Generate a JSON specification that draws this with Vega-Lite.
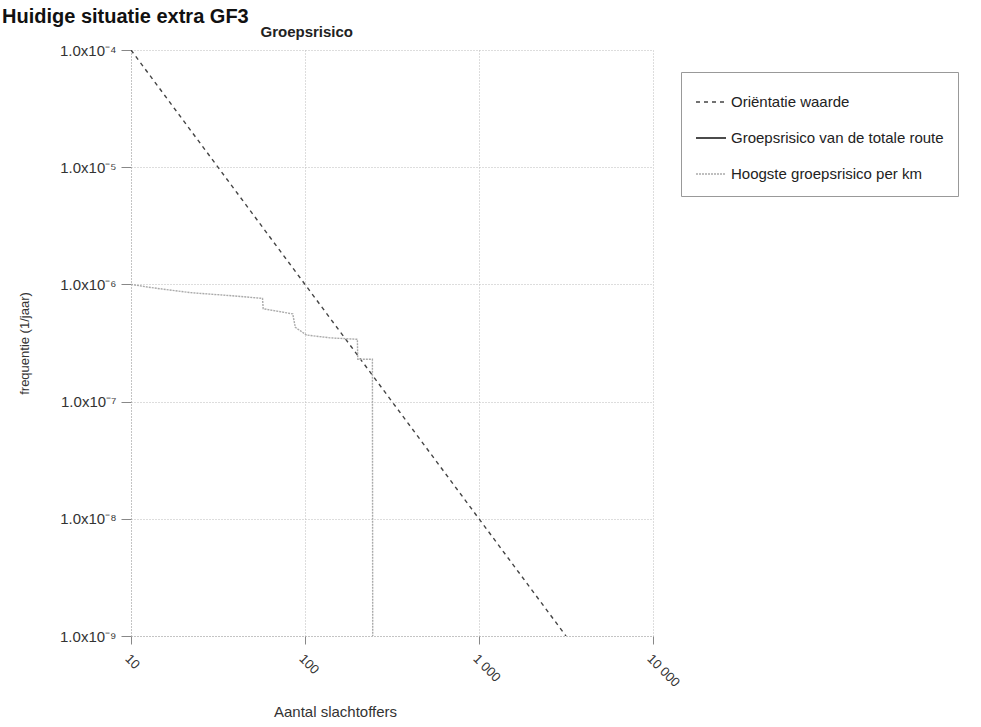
{
  "$schema": "https://vega.github.io/schema/vega-lite/v6.json",
  "width": 522,
  "height": 586,
  "autosize": "none",
  "padding": {"left": 131, "top": 50, "right": 328, "bottom": 91},
  "background": "white",
  "config": {"font": "Liberation Sans", "view": {"stroke": null}},
  "title": {"text": "Huidige situatie extra GF3", "anchor": "start", "frame": "group", "dx": -129, "dy": 27, "fontSize": 20, "fontWeight": "bold", "color": "#111", "offset": 4, "baseline": "bottom"},
  "data": {
    "values": [
      {"series": "Oriëntatie waarde", "N": 10, "f": 1e-4},
      {"series": "Oriëntatie waarde", "N": 3162, "f": 1e-9},
      {"series": "Hoogste groepsrisico per km", "N": 10, "f": 1.0e-6},
      {"series": "Hoogste groepsrisico per km", "N": 13, "f": 9.4e-7},
      {"series": "Hoogste groepsrisico per km", "N": 22, "f": 8.5e-7},
      {"series": "Hoogste groepsrisico per km", "N": 38, "f": 8.0e-7},
      {"series": "Hoogste groepsrisico per km", "N": 57, "f": 7.6e-7},
      {"series": "Hoogste groepsrisico per km", "N": 57.5, "f": 6.2e-7},
      {"series": "Hoogste groepsrisico per km", "N": 85, "f": 5.6e-7},
      {"series": "Hoogste groepsrisico per km", "N": 88, "f": 4.3e-7},
      {"series": "Hoogste groepsrisico per km", "N": 102, "f": 3.7e-7},
      {"series": "Hoogste groepsrisico per km", "N": 139, "f": 3.5e-7},
      {"series": "Hoogste groepsrisico per km", "N": 200, "f": 3.4e-7},
      {"series": "Hoogste groepsrisico per km", "N": 201, "f": 2.3e-7},
      {"series": "Hoogste groepsrisico per km", "N": 244, "f": 2.3e-7},
      {"series": "Hoogste groepsrisico per km", "N": 245, "f": 1e-9}
    ]
  },
  "resolve": {"axis": {"x": "independent"}},
  "layer": [
    {
      "mark": {"type": "line", "clip": true, "strokeWidth": 1.4},
      "encoding": {
        "x": {
          "field": "N", "type": "quantitative",
          "scale": {"type": "log", "domain": [10, 10000]},
          "axis": {
            "values": [10, 100, 1000, 10000],
            "labelExpr": "datum.value == 1000 ? '1 000' : datum.value == 10000 ? '10 000' : datum.value == 100 ? '100' : '10'",
            "labelAngle": 45, "labelAlign": "left", "labelBaseline": "top", "labelPadding": 8,
            "labelFontSize": 13, "labelColor": "#333",
            "tickColor": "#888", "tickSize": 8, "domainColor": "#aaa", "domainDash": [1, 2],
            "grid": true, "gridColor": "#bbb", "gridDash": [1, 2],
            "title": "Aantal slachtoffers", "titleFontWeight": "normal", "titleFontSize": 15, "titleColor": "#333",
            "titleX": 204, "titleY": 80, "titleBaseline": "alphabetic"
          }
        },
        "y": {
          "field": "f", "type": "quantitative",
          "scale": {"type": "log", "domain": [1e-9, 1e-4]},
          "axis": {
            "values": [1e-9, 1e-8, 1e-7, 1e-6, 1e-5, 1e-4],
            "labelExpr": "'1.0x10⁻' + ['⁰','¹','²','³','⁴','⁵','⁶','⁷','⁸','⁹'][-round(log(datum.value)/LN10)]",
            "labelFontSize": 15, "labelColor": "#333", "labelPadding": 5,
            "tickColor": "#888", "tickSize": 10, "domainColor": "#aaa", "domainDash": [1, 2],
            "grid": true, "gridColor": "#bbb", "gridDash": [1, 2],
            "title": "frequentie (1/jaar)", "titleFontWeight": "normal", "titleFontSize": 13, "titleColor": "#333",
            "titlePadding": 28
          }
        },
        "color": {
          "field": "series", "type": "nominal",
          "scale": {"domain": ["Oriëntatie waarde", "Groepsrisico van de totale route", "Hoogste groepsrisico per km"], "range": ["#444444", "#111111", "#aaaaaa"]},
          "legend": {
            "orient": "none", "legendX": 550, "legendY": 22, "title": null,
            "symbolType": "stroke", "symbolSize": 900, "symbolStrokeWidth": 1.5,
            "labelFontSize": 15, "labelColor": "#222", "labelLimit": 400, "rowPadding": 12,
            "padding": 14, "strokeColor": "#999"
          }
        },
        "strokeDash": {
          "field": "series", "type": "nominal",
          "scale": {"domain": ["Oriëntatie waarde", "Groepsrisico van de totale route", "Hoogste groepsrisico per km"], "range": [[4, 4], [1, 0], [2, 1]]},
          "legend": null
        }
      }
    },
    {
      "mark": {"type": "point", "opacity": 0},
      "encoding": {
        "x": {
          "field": "N", "type": "quantitative",
          "axis": {
            "orient": "top", "labels": false, "ticks": false, "domain": false, "grid": false,
            "title": "Groepsrisico", "titleFontSize": 15, "titleFontWeight": "bold", "titleColor": "#222",
            "titleAnchor": "start", "titleAlign": "left", "titleX": 129, "titleY": -14, "titleBaseline": "alphabetic"
          }
        }
      }
    }
  ]
}
